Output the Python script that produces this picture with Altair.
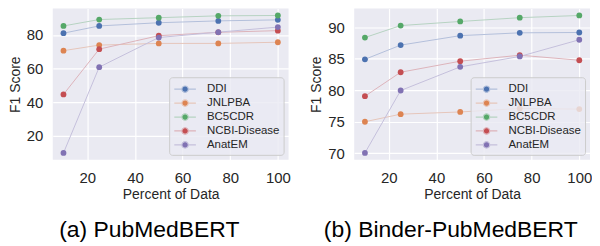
import altair as alt
import pandas as pd

percent = [10, 25, 50, 75, 100]
datasets = ["DDI", "JNLPBA", "BC5CDR", "NCBI-Disease", "AnatEM"]
colors = ["#4C72B0", "#DD8452", "#55A868", "#C44E52", "#8172B3"]
line_colors = ["#B3C0DB", "#E6C6BA", "#B6D3C2", "#DDB3BA", "#C5C0DC"]

# (a) PubMedBERT
pub_ddi = [81.1, 85.4, 87.3, 88.4, 89.0]
pub_jnlpba = [70.7, 74.0, 75.0, 75.0, 75.7]
pub_bc5cdr = [85.4, 89.2, 90.3, 91.4, 91.6]
pub_ncbi = [44.7, 71.6, 79.6, 81.6, 82.6]
pub_anatem = [9.9, 60.9, 78.5, 81.7, 84.7]

# (b) Binder-PubMedBERT
bin_ddi = [84.9, 87.15, 88.65, 89.1, 89.15]
bin_jnlpba = [75.0, 76.2, 76.55, 77.1, 77.0]
bin_bc5cdr = [88.35, 90.25, 90.9, 91.5, 91.85]
bin_ncbi = [79.05, 82.85, 84.6, 85.55, 84.75]
bin_anatem = [70.05, 79.95, 83.7, 85.35, 88.0]

x_ticks = [20, 40, 60, 80, 100]
yticks_a = [20, 40, 60, 80]
yticks_b = [70, 75, 80, 85, 90]

FONT = "Liberation Sans"
TEXT = "#262626"
LEGEND_PATH = (
    "M-1.55,0L-0.46,0M0.46,0L1.55,0"
    "M0.46,0A0.46,0.46,0,1,1,-0.46,0A0.46,0.46,0,1,1,0.46,0Z"
)


def frame(series):
    rows = []
    for name, vals in zip(datasets, series):
        for p, v in zip(percent, vals):
            rows.append({"Percent": p, "F1": v, "Dataset": name})
    return pd.DataFrame(rows)


def legend():
    return alt.Legend(
        title=None,
        orient="bottom-right",
        offset=5,
        fillColor="rgba(234,234,242,0.8)",
        strokeColor="#cccccc",
        cornerRadius=3,
        padding=4,
        labelFont=FONT,
        labelFontSize=11.5,
        labelColor=TEXT,
        labelOffset=14,
        symbolType=LEGEND_PATH,
        symbolSize=196,
        symbolOffset=4,
        symbolStrokeWidth=1.2,
        rowPadding=0,
    )


def panel(df, ydomain, yticks, caption, width):
    x = alt.X(
        "Percent:Q",
        title="Percent of Data",
        scale=alt.Scale(domain=[5.5, 104.5], nice=False, zero=False),
        axis=alt.Axis(values=x_ticks, labelPadding=11, titlePadding=2),
    )
    y = alt.Y(
        "F1:Q",
        title="F1 Score",
        scale=alt.Scale(domain=ydomain, nice=False, zero=False),
        axis=alt.Axis(values=yticks, labelPadding=10, titlePadding=4),
    )
    stroke = alt.Stroke(
        "Dataset:N",
        sort=datasets,
        scale=alt.Scale(domain=datasets, range=line_colors),
        legend=legend(),
    )
    fill = alt.Fill(
        "Dataset:N",
        sort=datasets,
        scale=alt.Scale(domain=datasets, range=colors),
        legend=legend(),
    )
    base = alt.Chart(df).encode(x=x, y=y, order="Percent:Q")
    lines = base.mark_line(strokeWidth=1).encode(stroke=stroke)
    points = base.mark_circle(size=34, opacity=1, strokeWidth=0).encode(fill=fill)
    return alt.layer(lines, points).properties(
        width=width,
        height=152,
        title=alt.TitleParams(
            caption,
            orient="bottom",
            anchor="middle",
            frame="bounds",
            font=FONT,
            fontSize=23,
            fontWeight="normal",
            color="black",
            offset=18,
        ),
    )


df_a = frame([pub_ddi, pub_jnlpba, pub_bc5cdr, pub_ncbi, pub_anatem])
df_b = frame([bin_ddi, bin_jnlpba, bin_bc5cdr, bin_ncbi, bin_anatem])

pa = panel(df_a, [5.8, 95.7], yticks_a, "(a) PubMedBERT", 237)
pb = panel(df_b, [68.96, 92.94], yticks_b, "(b) Binder-PubMedBERT", 237)

chart = (
    alt.hconcat(pa, pb, spacing=19)
    .resolve_scale(x="independent", y="independent", fill="independent", stroke="independent")
    .properties(padding=0, background="white")
    .configure_view(fill="#EAEAF2", stroke=None)
    .configure_axis(
        domain=False,
        ticks=False,
        grid=True,
        gridColor="white",
        gridWidth=1.2,
        labelFont=FONT,
        labelFontSize=15,
        labelColor=TEXT,
        titleFont=FONT,
        titleFontSize=14,
        titleFontWeight="normal",
        titleColor=TEXT,
    )
)

chart.save("out.html", embed_options={"renderer": "svg", "actions": False})
